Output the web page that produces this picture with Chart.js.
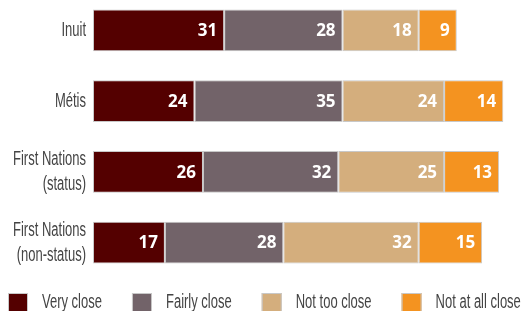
<!DOCTYPE html>
<html>
<head>
<meta charset="utf-8">
<script src="https://cdn.jsdelivr.net/npm/chart.js@4"></script>
<style>
  html, body { margin: 0; padding: 0; background: #fff; }
  body { width: 524px; height: 311px; position: relative; overflow: hidden; }
  #wrap { position: absolute; left: 0; top: -5px; width: 524px; height: 318px; }
</style>
</head>
<body>
<div id="wrap"><canvas id="chart"></canvas></div>
<script>
// 데이터
const categories = [['Inuit'], ['Métis'], ['First Nations', '(status)'], ['First Nations', '(non-status)']];
const seriesNames = ['Very close', 'Fairly close', 'Not too close', 'Not at all close'];
const veryClose = [31, 24, 26, 17];
const fairlyClose = [28, 35, 32, 28];
const notTooClose = [18, 24, 25, 32];
const notAtAllClose = [9, 14, 13, 15];
const colors = ['#540000', '#726369', '#d4ae7d', '#f49320'];

const seriesValues = [veryClose, fairlyClose, notTooClose, notAtAllClose];

// 좁은 글꼴이 없어서 가로로 눌러서 그림 (condensed 흉내)
const NARROW = 0.65;
const LABEL_FONT = '20px "Liberation Sans", sans-serif';
const TEXT_COLOR = '#444444';

function narrowText(ctx, text, x, y, align) {
    ctx.save();
    ctx.translate(x, y);
    ctx.scale(NARROW, 1);
    ctx.textAlign = align;
    ctx.fillText(text, 0, 0);
    ctx.restore();
}

// 막대 안쪽 값 라벨 (오른쪽 정렬)
const valueLabels = {
    id: 'valueLabels',
    afterDatasetsDraw(chart) {
        const ctx = chart.ctx;
        ctx.save();
        ctx.font = 'bold 17px "Open Sans", sans-serif';
        ctx.fillStyle = '#ffffff';
        ctx.textAlign = 'right';
        ctx.textBaseline = 'middle';
        chart.data.datasets.forEach((ds, i) => {
            chart.getDatasetMeta(i).data.forEach((bar, j) => {
                ctx.fillText(String(ds.data[j]), bar.x - 7, bar.y + 1);
            });
        });
        ctx.restore();
    }
};

// y축 카테고리 라벨
const categoryLabels = {
    id: 'categoryLabels',
    afterDraw(chart) {
        const ctx = chart.ctx;
        const yScale = chart.scales.y;
        const right = chart.chartArea.left - 7;
        const lineH = 25;
        ctx.save();
        ctx.font = LABEL_FONT;
        ctx.fillStyle = TEXT_COLOR;
        ctx.textBaseline = 'middle';
        categories.forEach((lines, i) => {
            const cy = yScale.getPixelForTick(i);
            const top = cy - (lines.length - 1) * lineH / 2;
            lines.forEach((t, k) => narrowText(ctx, t, right, top + k * lineH, 'right'));
        });
        ctx.restore();
    }
};

// 범례 (아래쪽)
const bottomLegend = {
    id: 'bottomLegend',
    afterDraw(chart) {
        const ctx = chart.ctx;
        const y = chart.chartArea.bottom + 25;
        let x = 8;
        ctx.save();
        ctx.font = LABEL_FONT;
        ctx.textBaseline = 'middle';
        seriesNames.forEach((name, i) => {
            ctx.fillStyle = colors[i];
            ctx.fillRect(x, y - 10, 20, 20);
            ctx.strokeStyle = '#c8c8c8';
            ctx.lineWidth = 1;
            ctx.strokeRect(x + 0.5, y - 9.5, 19, 19);
            x += 34;
            ctx.fillStyle = TEXT_COLOR;
            narrowText(ctx, name, x, y - 1, 'left');
            x += ctx.measureText(name).width * NARROW + 30;
        });
        ctx.restore();
    }
};

new Chart(document.getElementById('chart'), {
    type: 'bar',
    data: {
        labels: categories,
        datasets: seriesNames.map((name, i) => ({
            label: name,
            data: seriesValues[i],
            backgroundColor: colors[i],
            borderColor: '#c8c8c8',
            borderWidth: 1,
            borderSkipped: false,
            barPercentage: 0.59,
            categoryPercentage: 1
        }))
    },
    options: {
        indexAxis: 'y',
        responsive: true,
        maintainAspectRatio: false,
        animation: false,
        layout: { padding: { left: 0, right: 8, top: 0, bottom: 35 } },
        plugins: {
            legend: { display: false },
            tooltip: { enabled: false }
        },
        scales: {
            x: { stacked: true, display: false, min: 0, max: 100 },
            y: {
                stacked: true,
                grid: { display: false, drawTicks: false },
                border: { display: false },
                ticks: { display: false },
                afterFit(scale) {
                    scale.width = 93;
                    scale.paddingTop = 0;
                    scale.paddingBottom = 0;
                }
            }
        }
    },
    plugins: [valueLabels, categoryLabels, bottomLegend]
});
</script>
</body>
</html>
